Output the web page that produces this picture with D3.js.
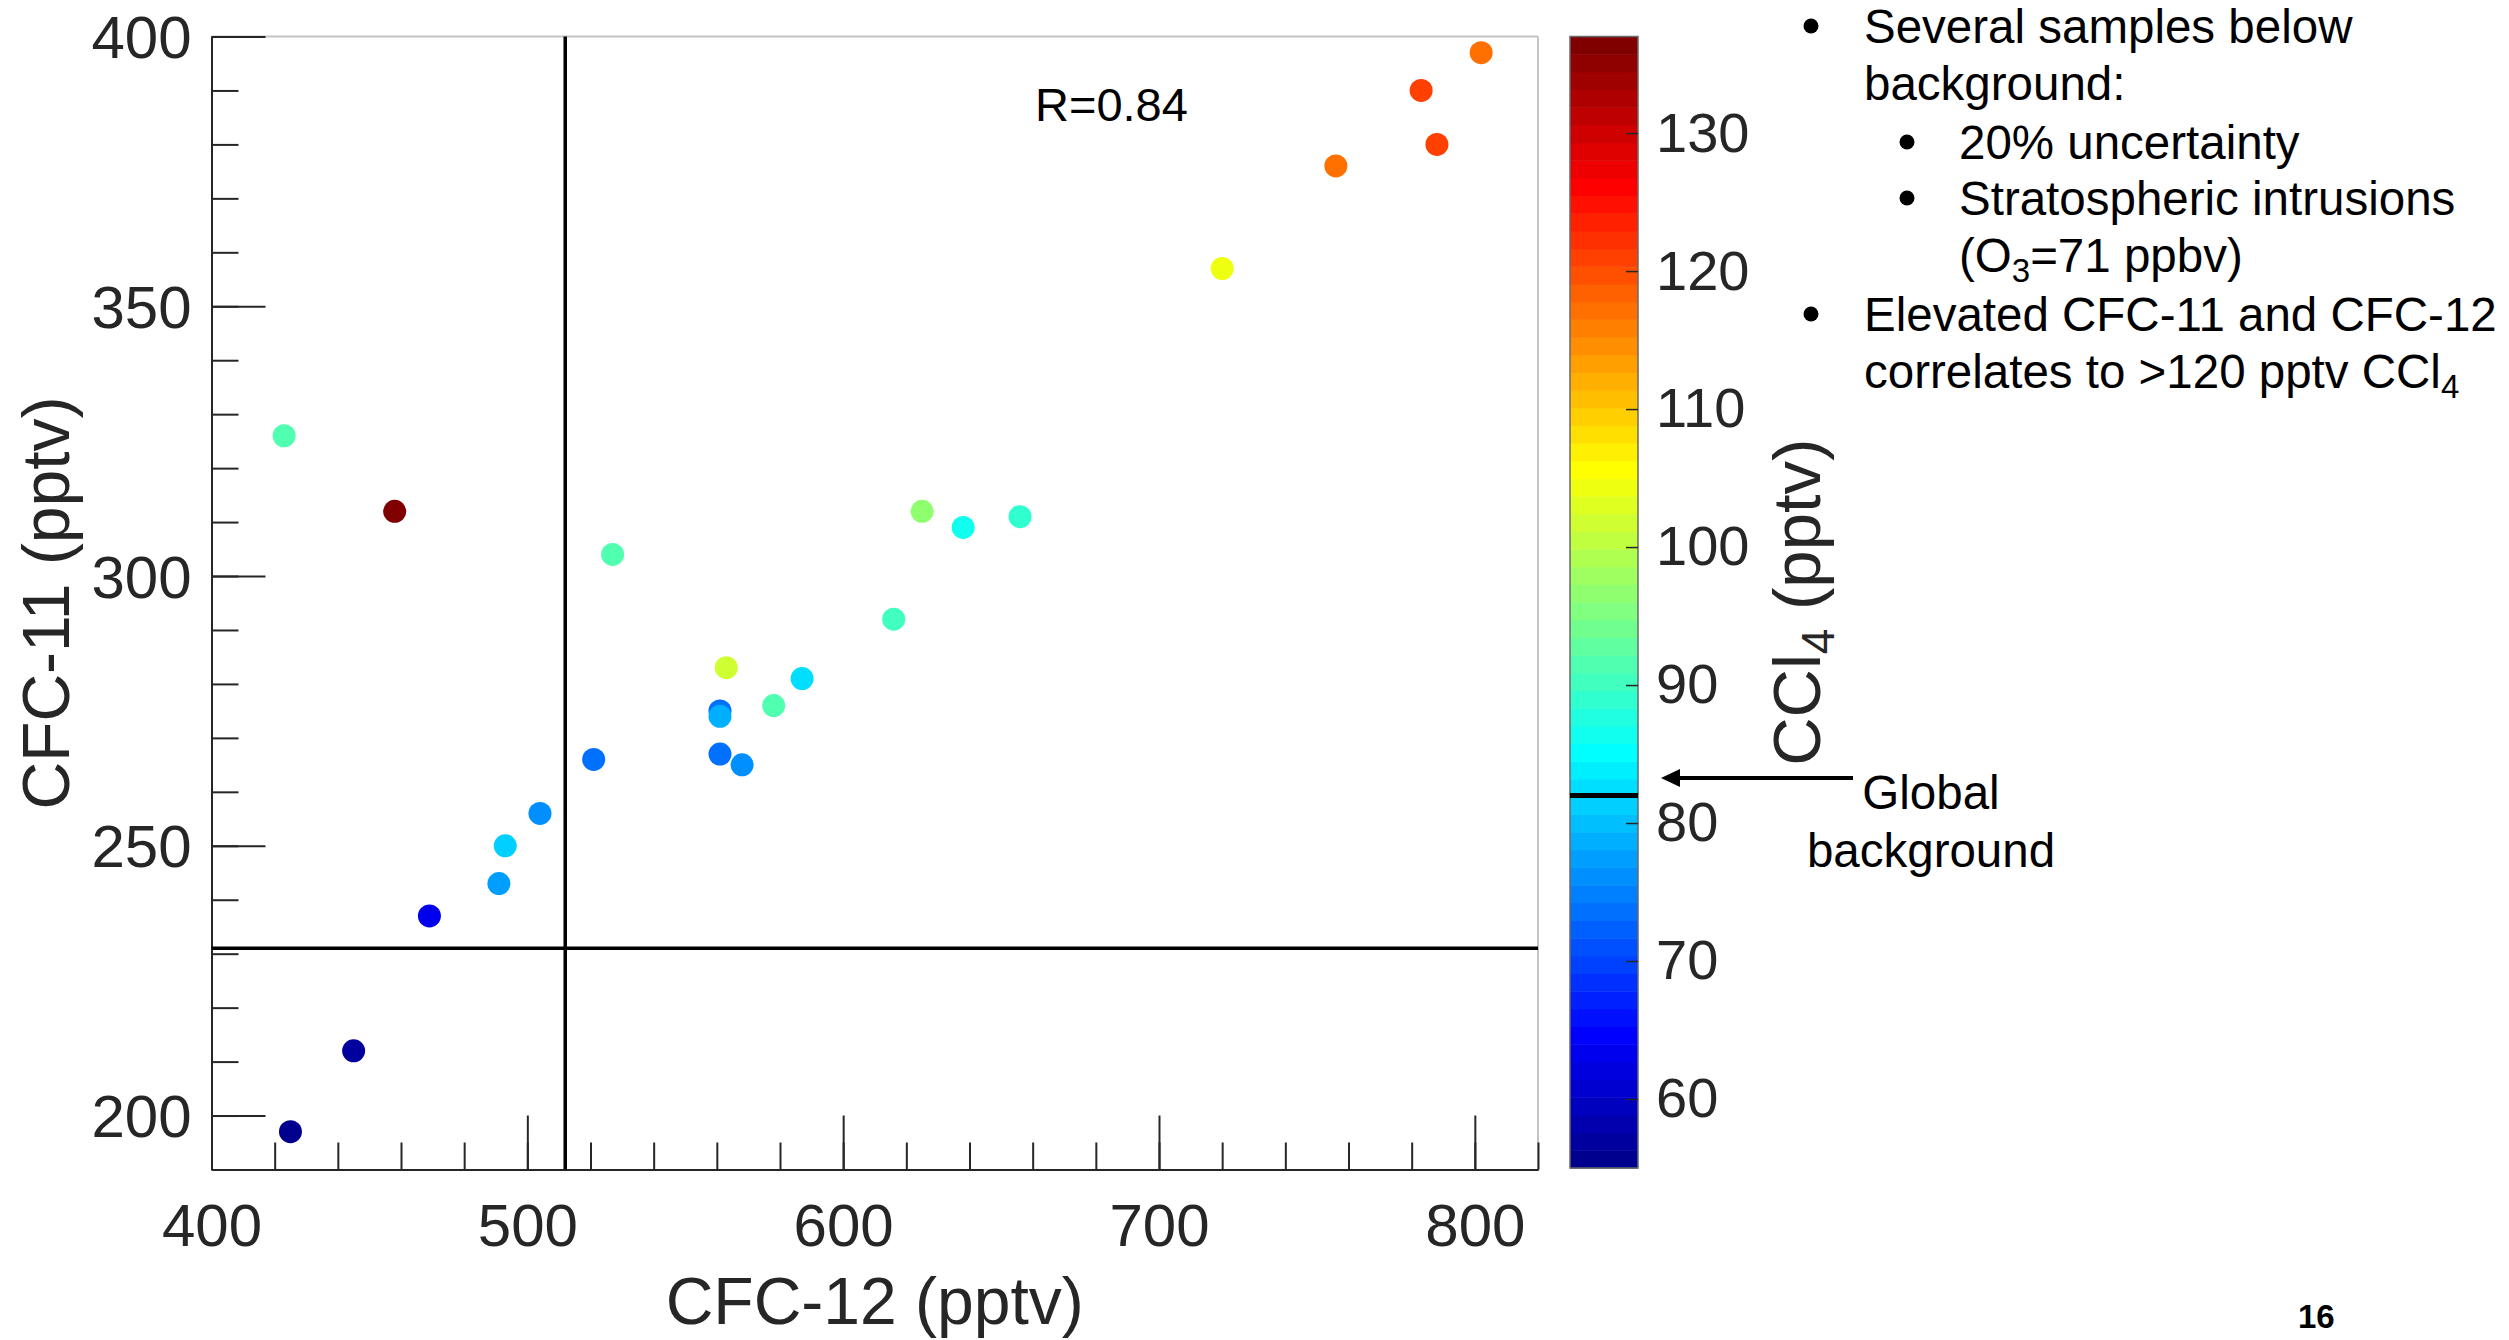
<!DOCTYPE html>
<html>
<head>
<meta charset="utf-8">
<script src="https://cdn.jsdelivr.net/npm/d3@7"></script>
<style>
  html, body { margin: 0; padding: 0; background: #ffffff; }
  svg { display: block; }
  text { font-family: "Liberation Sans", Arial, Helvetica, sans-serif; }
</style>
</head>
<body>
<svg id="chart" width="2509" height="1340"></svg>
<script>
// ---------------- data ----------------
const cfc12 = [423, 458, 425, 445, 469, 491, 493, 504, 521, 527, 561, 561, 561, 568, 563, 578, 587, 616, 625, 638, 656, 720, 756, 783, 788, 802];
const cfc11 = [326, 312, 197, 212, 237, 243, 250, 256, 266, 304, 275, 274, 267, 265, 283, 276, 281, 292, 312, 309, 311, 357, 376, 390, 380, 397];
const ccl4  = [92, 137, 55, 57, 63, 77, 81, 75.5, 74, 91, 74, 79, 73, 75.5, 102, 92, 82.5, 89.7, 97, 86.5, 89.5, 104.6, 116.5, 121.6, 120.4, 117.5];

const xMajorTicks = [400, 500, 600, 700, 800];
const yMajorTicks = [200, 250, 300, 350, 400];
const cTicks = [60, 70, 80, 90, 100, 110, 120, 130];
const xDomain = [400, 820];
const yDomain = [190, 400];
const cDomain = [55, 137];
const bgCFC12 = 512;       // vertical reference line
const bgCFC11 = 231;       // horizontal reference line
const bgCCl4 = 82;         // global background on colour bar
const rText = "R=0.84";
const xTitle = "CFC-12 (pptv)";
const yTitle = "CFC-11 (pptv)";

// ---------------- jet(64) colormap (MATLAB) ----------------
function jet(m) {
  const n = Math.ceil(m / 4);
  const u = [];
  for (let i = 1; i <= n; i++) u.push(i / n);
  for (let i = 1; i < n; i++) u.push(1);
  for (let i = n; i >= 1; i--) u.push(i / n);
  const J = Array.from({length: m}, () => [0, 0, 0]);
  const gOff = Math.ceil(n / 2) - (m % 4 === 1 ? 1 : 0);
  for (let k = 0; k < u.length; k++) {
    const g = gOff + k;
    if (g >= 0 && g < m) J[g][1] = u[k];
  }
  let rs = [];
  for (let k = 0; k < u.length; k++) { const r = gOff + k + n; if (r < m) rs.push(r); }
  rs.forEach((r, i) => J[r][0] = u[i]);
  let bs = [];
  for (let k = 0; k < u.length; k++) { const b = gOff + k - n; if (b >= 0) bs.push(b); }
  bs.forEach((b, i) => J[b][2] = u[u.length - bs.length + i]);
  return J.map(c => d3.rgb(Math.round(c[0] * 255), Math.round(c[1] * 255), Math.round(c[2] * 255)).formatHex());
}
const jet64 = jet(64);

// ---------------- layout ----------------
const svg = d3.select("#chart");
const P = {left: 211.5, right: 1538, top: 36.5, bottom: 1169.5};
const CB = {left: 1570, right: 1638, top: 36.5, bottom: 1168};
const axisCol = "#262626";

const x = d3.scaleLinear().domain(xDomain).range([P.left, P.right]);
const y = d3.scaleLinear().domain(yDomain).range([P.bottom, P.top]);
const cy = d3.scaleLinear().domain(cDomain).range([CB.bottom, CB.top]);
const color = d3.scaleQuantize().domain(cDomain).range(jet64);

// box: top/right light grey
svg.append("line").attr("x1", P.left).attr("x2", P.right).attr("y1", P.top).attr("y2", P.top)
  .attr("stroke", "#c4c4c4").attr("stroke-width", 2);
svg.append("line").attr("x1", P.right).attr("x2", P.right).attr("y1", P.top).attr("y2", P.bottom)
  .attr("stroke", "#c4c4c4").attr("stroke-width", 2);

// minor ticks
const gxMinor = svg.append("g").attr("transform", `translate(0,${P.bottom})`)
  .call(d3.axisBottom(x).tickValues(d3.range(400, 821, 20)).tickSizeInner(-27).tickSizeOuter(0).tickFormat(""));
const gyMinor = svg.append("g").attr("transform", `translate(${P.left},0)`)
  .call(d3.axisLeft(y).tickValues(d3.range(190, 401, 10)).tickSizeInner(-27).tickSizeOuter(0).tickFormat(""));
// major ticks
const gx = svg.append("g").attr("transform", `translate(0,${P.bottom})`)
  .call(d3.axisBottom(x).tickValues(xMajorTicks).tickSizeInner(-54).tickSizeOuter(0).tickPadding(34));
const gy = svg.append("g").attr("transform", `translate(${P.left},0)`)
  .call(d3.axisLeft(y).tickValues(yMajorTicks).tickSizeInner(-54).tickSizeOuter(0).tickPadding(20));

[gxMinor, gyMinor, gx, gy].forEach(g => {
  g.selectAll("path.domain").attr("stroke", axisCol).attr("stroke-width", 2);
  g.selectAll(".tick line").attr("stroke", axisCol).attr("stroke-width", 2);
  g.selectAll("text").attr("fill", axisCol).attr("font-size", 60)
    .style("font-family", '"Liberation Sans", Arial, Helvetica, sans-serif');
});
gy.selectAll("text").attr("dy", "0.35em");

// reference lines
svg.append("line").attr("x1", x(bgCFC12)).attr("x2", x(bgCFC12)).attr("y1", P.top).attr("y2", P.bottom)
  .attr("stroke", "#000").attr("stroke-width", 3.5);
svg.append("line").attr("x1", P.left).attr("x2", P.right).attr("y1", y(bgCFC11)).attr("y2", y(bgCFC11))
  .attr("stroke", "#000").attr("stroke-width", 3.5);

// points
const pts = cfc12.map((v, i) => ({x: v, y: cfc11[i], c: ccl4[i]}));
svg.append("g").selectAll("circle").data(pts).join("circle")
  .attr("cx", d => x(d.x)).attr("cy", d => y(d.y)).attr("r", 11.5)
  .attr("fill", d => color(d.c));

// R text
svg.append("text").attr("x", 1035).attr("y", 121).attr("font-size", 47).attr("fill", "#000").text(rText);

// axis titles
svg.append("text").attr("x", (P.left + P.right) / 2).attr("y", 1324).attr("text-anchor", "middle")
  .attr("font-size", 66).attr("fill", axisCol).text(xTitle);
svg.append("text").attr("transform", `translate(69,${(P.top + P.bottom) / 2}) rotate(-90)`)
  .attr("text-anchor", "middle").attr("font-size", 66).attr("fill", axisCol).text(yTitle);

// ---------------- colour bar ----------------
const step = (cDomain[1] - cDomain[0]) / 64;
svg.append("g").selectAll("rect").data(jet64).join("rect")
  .attr("x", CB.left).attr("width", CB.right - CB.left)
  .attr("y", (d, i) => cy(cDomain[0] + (i + 1) * step))
  .attr("height", (d, i) => cy(cDomain[0] + i * step) - cy(cDomain[0] + (i + 1) * step) + 0.5)
  .attr("fill", d => d);
svg.append("rect").attr("x", CB.left).attr("y", CB.top).attr("width", CB.right - CB.left)
  .attr("height", CB.bottom - CB.top).attr("fill", "none").attr("stroke", "#6a6a6a").attr("stroke-width", 1.5);

const gc = svg.append("g").attr("transform", `translate(${CB.right},0)`)
  .call(d3.axisRight(cy).tickValues(cTicks).tickSizeInner(-12).tickSizeOuter(0).tickPadding(18));
gc.select("path.domain").remove();
gc.selectAll(".tick line").attr("stroke", axisCol).attr("stroke-width", 1.5);
gc.selectAll("text").attr("fill", axisCol).attr("font-size", 56)
  .style("font-family", '"Liberation Sans", Arial, Helvetica, sans-serif');

// global background line on the colour bar
svg.append("line").attr("x1", CB.left).attr("x2", CB.right).attr("y1", cy(bgCCl4)).attr("y2", cy(bgCCl4))
  .attr("stroke", "#000").attr("stroke-width", 5);

// colour bar label
const cl = svg.append("text").attr("transform", `translate(1820,${(CB.top + CB.bottom) / 2}) rotate(-90)`)
  .attr("text-anchor", "middle").attr("font-size", 67).attr("fill", axisCol);
cl.append("tspan").text("CCl");
cl.append("tspan").attr("font-size", 46).attr("dy", 14).text("4");
cl.append("tspan").attr("dy", -14).text(" (pptv)");

// arrow to global background
const ay = 778;
svg.append("line").attr("x1", 1853).attr("x2", 1676).attr("y1", ay).attr("y2", ay)
  .attr("stroke", "#000").attr("stroke-width", 4);
svg.append("path").attr("d", `M1661,${ay} L1680,${ay - 9} L1680,${ay + 9} Z`).attr("fill", "#000");
svg.append("text").attr("x", 1931).attr("y", 809).attr("text-anchor", "middle").attr("font-size", 47.5).attr("fill", "#000").text("Global");
svg.append("text").attr("x", 1931).attr("y", 867).attr("text-anchor", "middle").attr("font-size", 47.5).attr("fill", "#000").text("background");

// ---------------- bullet notes ----------------
const notes = svg.append("g").attr("font-size", 47.5).attr("fill", "#000");
const lines = [
  {lvl: 1, bullet: true,  y: 43,  parts: [["Several samples below"]]},
  {lvl: 1, bullet: false, y: 100, parts: [["background:"]]},
  {lvl: 2, bullet: true,  y: 159, parts: [["20% uncertainty"]]},
  {lvl: 2, bullet: true,  y: 215, parts: [["Stratospheric intrusions"]]},
  {lvl: 2, bullet: false, y: 272, parts: [["(O"], ["3", "sub"], ["=71 ppbv)"]]},
  {lvl: 1, bullet: true,  y: 331, parts: [["Elevated CFC-11 and CFC-12"]]},
  {lvl: 1, bullet: false, y: 388, parts: [["correlates to >120 pptv CCl"], ["4", "sub"]]}
];
lines.forEach(L => {
  const tx = L.lvl === 1 ? 1864 : 1959;
  const bx = L.lvl === 1 ? 1811 : 1907;
  if (L.bullet) notes.append("circle").attr("cx", bx).attr("cy", L.y - 17).attr("r", 7.5).attr("fill", "#000");
  const t = notes.append("text").attr("x", tx).attr("y", L.y);
  let shifted = false;
  L.parts.forEach(p => {
    if (p[1] === "sub") {
      t.append("tspan").attr("font-size", 33).attr("dy", 10).text(p[0]);
      shifted = true;
    } else {
      const s = t.append("tspan").text(p[0]);
      if (shifted) { s.attr("dy", -10); shifted = false; }
    }
  });
});

// page number
svg.append("text").attr("x", 2298).attr("y", 1328).attr("font-size", 33).attr("font-weight", "bold")
  .attr("fill", "#000").text("16");
</script>
</body>
</html>
